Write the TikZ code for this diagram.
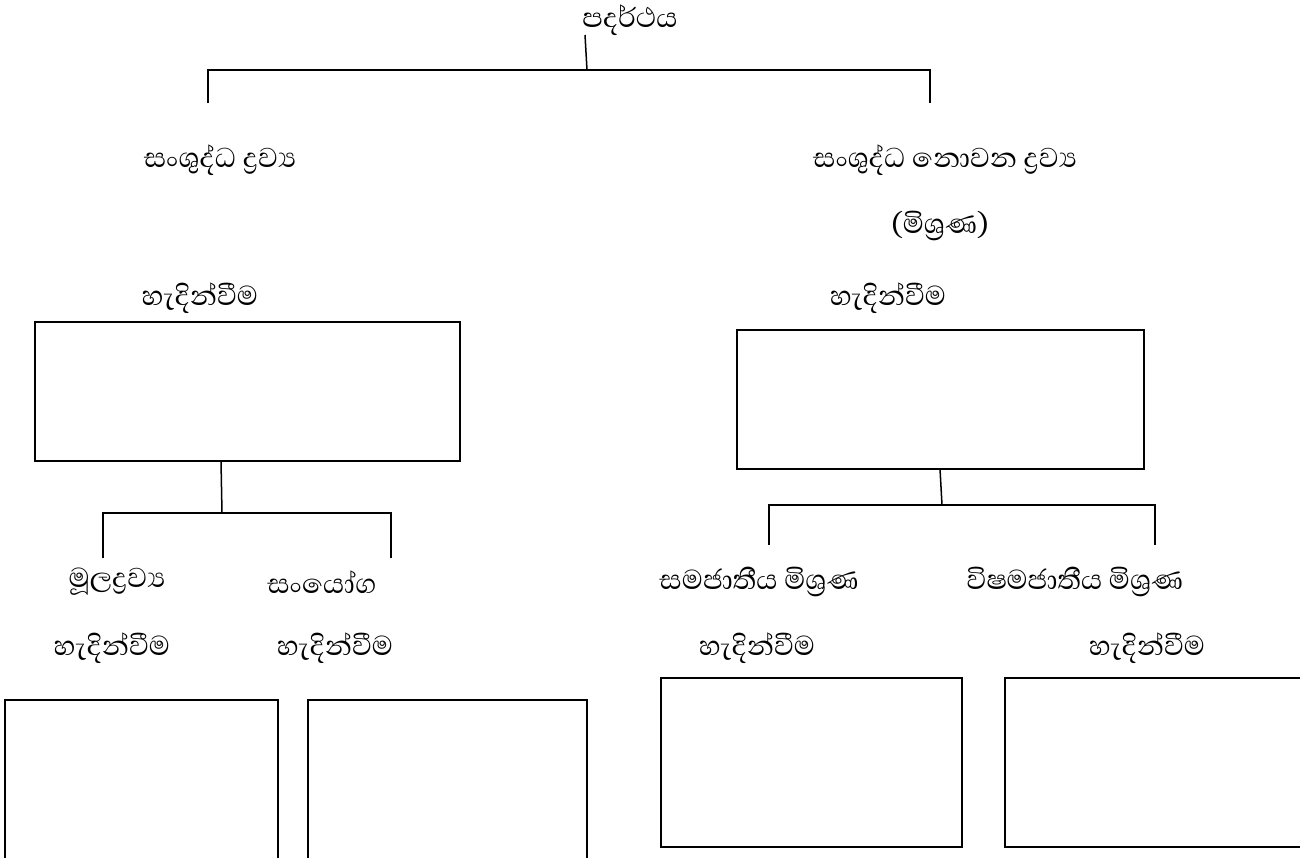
\documentclass[tikz,border=0pt]{standalone}
\usepackage{fontspec}
\newfontfamily\sinhala[Script=Sinhala]{Abhaya Libre}

\begin{document}
\begin{tikzpicture}[x=1pt,y=-1pt,
  lbl/.style={font=\sinhala\fontsize{35}{40}\selectfont, inner sep=0pt},
  frame/.style={draw, line width=1.8pt, inner sep=0pt},
  link/.style={line width=1.5pt}]
\useasboundingbox (0,0) rectangle (1300,857);

\node[lbl] (matter) at (630,20) {පදර්ථය};
\node[lbl] (pure) at (220,160) {සංශුද්ධ ද්^^^^200dරව්^^^^200dය};
\node[lbl] (impure) at (945,160) {සංශුද්ධ නොවන ද්^^^^200dරව්^^^^200dය};
\node[lbl] (mix) at (940,226) {(මිශ්^^^^200dරණ)};

\node[lbl] (pdef) at (200,298) {හැදින්වීම};
\node[lbl] (idef) at (888,298) {හැදින්වීම};
\node[frame, minimum width=425, minimum height=139] (pbox) at (247.5,391.5) {};
\node[frame, minimum width=407, minimum height=139] (ibox) at (940.5,399.5) {};

\node[lbl] (elem) at (117,582) {මූලද්^^^^200dරව්^^^^200dය};
\node[lbl] (comp) at (322,582) {සංයෝග};
\node[lbl] (homo) at (759,582) {සමජාතීය මිශ්^^^^200dරණ};
\node[lbl] (hetero) at (1075,582) {විෂමජාතීය මිශ්^^^^200dරණ};

\node[lbl] (edef) at (112,648) {හැදින්වීම};
\node[lbl] (cdef) at (335,648) {හැදින්වීම};
\node[lbl] (hodef) at (757,648) {හැදින්වීම};
\node[lbl] (hedef) at (1147,648) {හැදින්වීම};

% bottom boxes, cut by the page edge
\node[frame, minimum width=273, minimum height=170] (ebox) at (141.5,785) {};
\node[frame, minimum width=279, minimum height=170] (cbox) at (447.5,785) {};
\node[frame, minimum width=301, minimum height=169] (hobox) at (811.5,762.5) {};
\node[frame, minimum width=315, minimum height=169] (hebox) at (1162.5,762.5) {};

% tree lines
\coordinate (m0) at (585,35);
\coordinate (mj) at (587,70);
\coordinate (pleg) at (208,103);
\coordinate (ileg) at (930,103);
\draw[link] (m0) -- (mj);
\draw[link] (pleg) |- (mj) -| (ileg);

\coordinate (p0) at (221,461);
\coordinate (pj) at (222,513);
\coordinate (eleg) at (103,558);
\coordinate (cleg) at (391,558);
\draw[link] (p0) -- (pj);
\draw[link] (eleg) |- (pj) -| (cleg);

\coordinate (i0) at (940,469);
\coordinate (ij) at (942,505);
\coordinate (holeg) at (769,545);
\coordinate (heleg) at (1155,545);
\draw[link] (i0) -- (ij);
\draw[link] (holeg) |- (ij) -| (heleg);
\end{tikzpicture}
\end{document}
